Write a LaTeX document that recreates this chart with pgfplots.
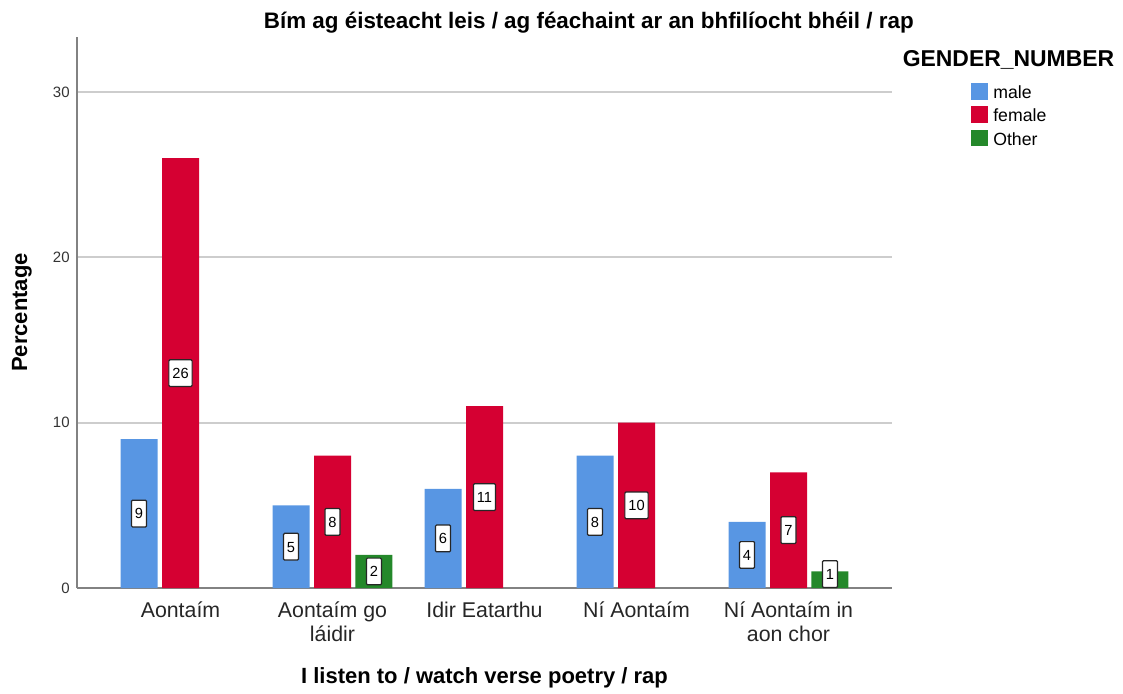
\documentclass[border=0pt]{standalone}
\usepackage{fontspec}
\setmainfont{Liberation Sans}
\usepackage{pgfplots}
\pgfplotsset{compat=1.18}
\definecolor{cmale}{RGB}{88,150,227}
\definecolor{cfemale}{RGB}{213,0,50}
\definecolor{cother}{RGB}{36,136,42}
\definecolor{axgray}{RGB}{130,130,130}
\definecolor{gridgray}{RGB}{205,205,205}
\tikzset{vallabel/.style={fill=white, draw=black!85, line width=0.9pt, rounded corners=0.8pt,
  inner xsep=2.6pt, inner ysep=6pt, text height=8pt, text depth=0pt,
  font=\fontsize{11}{13}\selectfont, anchor=center}}
\begin{document}
\begin{tikzpicture}
\begin{axis}[
  scale only axis, width=611.25pt, height=413.25pt,
  xmin=-0.681, xmax=4.681, ymin=0, ymax=33.33,
  axis lines*=left, axis line style={-, draw=axgray, line width=1.5pt},
  xtick={0,1,2,3,4},
  xticklabels={Aontaím, {Aontaím go\\láidir}, Idir Eatarthu, Ní Aontaím, {Ní Aontaím in\\aon chor}},
  xticklabel style={align=center, font=\fontsize{16}{17.5}\selectfont, text=black!85, yshift=-7pt},
  ytick={0,10,20,30},
  yticklabel style={font=\fontsize{11.25}{13}\selectfont, text=black!80, xshift=-2pt},
  /pgf/number format/assume math mode=true,
  major tick length=0pt,
  ymajorgrids, grid style={draw=gridgray, line width=1.5pt},
  title={Bím ag éisteacht leis / ag féachaint ar an bhfilíocht bhéil / rap},
  title style={at={(axis description cs:0.628,1.011)}, anchor=center, font=\fontsize{16.8}{18}\selectfont\bfseries},
  xlabel={I listen to / watch verse poetry / rap},
  xlabel style={at={(axis description cs:0.5,-0.163)}, anchor=center, font=\fontsize{16.5}{18}\selectfont\bfseries},
  ylabel={Percentage},
  ylabel style={at={(axis description cs:-0.0675,0.5)}, anchor=center, font=\fontsize{16.5}{18}\selectfont\bfseries},
  legend style={at={(axis description cs:1.097,0.9165)}, anchor=north west, draw=none, fill=none,
    inner sep=0pt, row sep=3.25pt, column sep=3.75pt, font=\fontsize{13.25}{15}\selectfont,
    nodes={inner sep=0pt, text height=9.5pt, text depth=2.5pt}},
  legend cell align=left,
  legend image code/.code={\fill[#1] (0pt,-4.6pt) rectangle (12.75pt,8.1pt);},
  clip=false,
]
\addplot[ybar, bar width=27.75pt, bar shift=-31.1pt, fill=cmale, draw=none]
  coordinates {(0,9) (1,5) (2,6) (3,8) (4,4)};
\addlegendentry{male}
\addplot[ybar, bar width=27.75pt, bar shift=0pt, fill=cfemale, draw=none]
  coordinates {(0,26) (1,8) (2,11) (3,10) (4,7)};
\addlegendentry{female}
\addplot[ybar, bar width=27.75pt, bar shift=31.1pt, fill=cother, draw=none]
  coordinates {(1,2) (4,1)};
\addlegendentry{Other}

\addplot[draw=none, mark=none, forget plot, nodes near coords, point meta=explicit symbolic,
  every node near coord/.append style={vallabel, xshift=-31.1pt}]
  coordinates {(0,4.5)[9] (1,2.5)[5] (2,3)[6] (3,4)[8] (4,2)[4]};
\addplot[draw=none, mark=none, forget plot, nodes near coords, point meta=explicit symbolic,
  every node near coord/.append style={vallabel}]
  coordinates {(0,13)[26] (1,4)[8] (2,5.5)[11] (3,5)[10] (4,3.5)[7]};
\addplot[draw=none, mark=none, forget plot, nodes near coords, point meta=explicit symbolic,
  every node near coord/.append style={vallabel, xshift=31.1pt}]
  coordinates {(1,1)[2] (4,0.84)[1]};

\node[anchor=west, font=\fontsize{17.2}{18}\selectfont\bfseries] at (axis description cs:1.0074,0.958) {GENDER\_NUMBER};
\end{axis}
\pgfresetboundingbox
\path[use as bounding box] (-57.75pt,-78.75pt) rectangle (784.5pt,441pt);
\end{tikzpicture}
\end{document}
